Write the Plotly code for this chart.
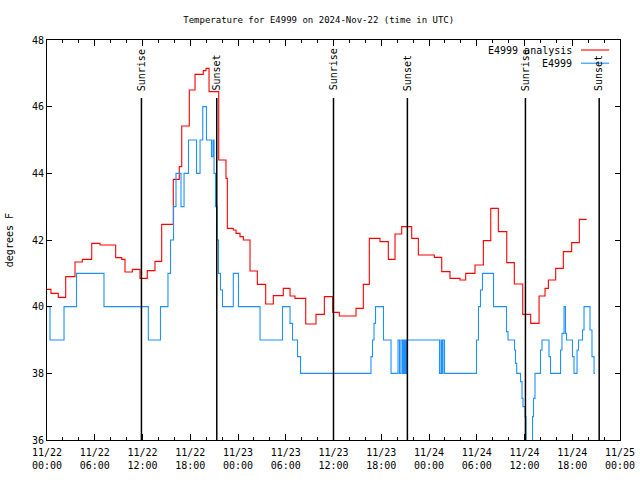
import pandas as pd
import plotly.graph_objects as go

# ---- data (hours after 2024-11-22 00:00 UTC, degrees F) ----
analysis_hours = [0.00, 0.50, 1.42, 2.35, 3.52, 4.44, 5.62, 6.66, 8.63, 9.39, 9.80, 10.72,
                  11.69, 12.60, 13.57, 14.41, 15.87, 16.62, 16.93, 17.88, 18.60, 19.64, 19.98,
                  20.36, 21.58, 22.49, 22.66, 23.41, 23.75, 24.25, 24.67, 25.51, 26.43, 27.48,
                  28.44, 29.69, 30.54, 31.16, 32.51, 33.80, 34.85, 35.90, 36.73, 38.83, 39.75,
                  40.50, 41.84, 42.89, 43.73, 44.57, 45.83, 46.66, 48.67, 49.60, 50.64, 51.90,
                  52.61, 53.78, 54.83, 55.76, 56.71, 57.77, 58.72, 59.78, 60.78, 61.83, 62.58,
                  63.00, 63.92, 64.88, 65.93, 66.89, 67.82]
analysis_temps = [40.52, 40.40, 40.28, 40.90, 41.34, 41.42, 41.90, 41.85, 41.47, 41.42, 41.04, 41.12,
                  40.85, 41.08, 41.36, 42.47, 43.82, 44.20, 45.42, 46.50, 46.97, 47.08, 47.15,
                  46.45, 44.40, 43.85, 42.35, 42.30, 42.20, 42.10, 42.00, 41.07, 40.67, 40.08,
                  40.33, 40.55, 40.32, 40.25, 39.48, 39.77, 40.30, 39.83, 39.72, 39.95, 40.67,
                  42.05, 41.95, 41.42, 42.18, 42.40, 42.05, 41.55, 41.48, 41.05, 40.85, 40.80,
                  41.00, 41.25, 41.98, 42.95, 42.25, 41.32, 40.68, 39.77, 39.50, 40.32, 40.55,
                  40.80, 41.15, 41.65, 41.92, 42.62, 42.62]

obs_hours = [0.00, 0.38, 2.14, 3.71, 7.16, 12.73, 14.26, 15.20, 15.52, 15.90, 16.21, 16.84,
             17.22, 17.78, 18.79, 19.23, 19.57, 20.04, 20.67, 20.86, 20.99, 21.17, 21.36,
             21.55, 21.80, 22.05, 23.41, 24.06, 26.77, 29.59, 30.54, 30.85, 31.48, 31.86,
             40.71, 40.90, 41.09, 41.28, 42.28, 43.23, 44.11, 44.30, 44.48, 44.67, 44.80,
             44.92, 45.05, 45.15, 45.28, 49.32, 49.51, 49.64, 49.76, 49.95, 53.97, 54.22,
             54.47, 54.72, 56.11, 57.74, 57.93, 58.75, 58.87, 59.02, 59.50, 59.69, 59.81,
             60.07, 60.19, 61.01, 61.13, 61.32, 62.01, 62.20, 63.08, 63.27, 64.53, 64.71,
             64.97, 65.15, 65.28, 66.03, 66.22, 66.60, 66.79, 67.29, 67.48, 68.23, 68.48,
             68.74, 68.86]
obs_temps = [40, 39, 40, 41, 40, 39, 40, 41, 42, 43, 44, 43,
             44, 45, 44, 45, 46, 45, 44.5, 45, 44, 43, 42,
             41, 40.5, 40, 41, 40, 39, 40, 39.5, 39, 38.5, 38,
             38.5, 39, 39.5, 40, 39, 38, 39, 38, 39, 38, 39,
             38, 39, 38, 39, 38, 39, 38, 39, 38, 39, 40,
             40.5, 41, 40, 39.25, 39, 38.7, 38.3, 38, 37.75, 37.25, 37,
             36.7, 35, 36.7, 37.25, 38, 38.7, 39, 38.5, 38, 38.7, 39.2,
             40, 39.2, 39, 38.5, 38, 38.7, 39, 39.3, 40, 39.3, 38.5,
             38, 38]

sun_labels = ["Sunrise", "Sunset", "Sunrise", "Sunset", "Sunrise", "Sunset"]
sun_times = ["2024-11-22 11:52", "2024-11-22 21:20", "2024-11-23 12:00",
             "2024-11-23 21:17", "2024-11-24 12:07", "2024-11-24 21:23"]

series_names = ["E4999 analysis", "E4999"]
series_colors = ["#ff0000", "#1e90ff"]

start = pd.Timestamp("2024-11-22 00:00")
a_t = start + pd.to_timedelta(analysis_hours, unit="h")
o_t = start + pd.to_timedelta(obs_hours, unit="h")

FONT = "DejaVu Sans Mono"

fig = go.Figure()
fig.add_trace(go.Scatter(x=a_t, y=analysis_temps, mode="lines", line_shape="hv",
                         line=dict(color=series_colors[0], width=1.1), name=series_names[0],
                         showlegend=False))
fig.add_trace(go.Scatter(x=o_t, y=obs_temps, mode="lines", line_shape="hv",
                         line=dict(color=series_colors[1], width=1.1), name=series_names[1],
                         showlegend=False))

shapes = []
annotations = []
for lab, t in zip(sun_labels, sun_times):
    shapes.append(dict(type="line", xref="x", yref="paper", x0=t, x1=t, y0=0, y1=0.855,
                       line=dict(color="black", width=1.5)))
    annotations.append(dict(x=t, y=0.868, xref="x", yref="paper", text=lab, textangle=-90,
                            showarrow=False, xanchor="center", yanchor="bottom",
                            font=dict(family=FONT, size=10, color="black")))

# legend drawn gnuplot-style (text then sample)
leg_y = [0.975, 0.942]
for name, col, ly in zip(series_names, series_colors, leg_y):
    annotations.append(dict(x=0.92, y=ly, xref="paper", yref="paper", text=name,
                            showarrow=False, xanchor="right", yanchor="middle",
                            font=dict(family=FONT, size=10, color="black")))
    shapes.append(dict(type="line", xref="paper", yref="paper", x0=0.932, x1=0.981,
                       y0=ly, y1=ly, line=dict(color=col, width=1.1)))

annotations.append(dict(x=-0.066, y=0.5, xref="paper", yref="paper", text="degrees F",
                        textangle=-90, showarrow=False, xanchor="center", yanchor="middle",
                        font=dict(family=FONT, size=10, color="black")))

fig.update_layout(
    width=640, height=480, autosize=False,
    margin=dict(l=47, r=20, t=40, b=40),
    paper_bgcolor="white", plot_bgcolor="white",
    font=dict(family=FONT, size=10, color="black"),
    title=dict(text="Temperature for E4999 on 2024-Nov-22 (time in UTC)",
               x=0.498, xref="container", xanchor="center", y=0.958, yref="container",
               yanchor="middle", font=dict(family=FONT, size=9, color="black")),
    shapes=shapes, annotations=annotations,
)
fig.update_xaxes(type="date", range=["2024-11-22 00:00", "2024-11-25 00:00"],
                 automargin=False,
                 tick0="2024-11-22 00:00", dtick=6 * 3600 * 1000,
                 tickformat="%m/%d<br>%H:%M", ticks="inside", ticklen=6, tickcolor="black",
                 ticklabelstandoff=3,
                 showline=True, linecolor="black", linewidth=1, mirror="allticks",
                 showgrid=False, zeroline=False,
                 minor=dict(dtick=2 * 3600 * 1000, ticks="inside", ticklen=3,
                            tickcolor="black", showgrid=False),
                 tickfont=dict(family=FONT, size=10, color="black"))
fig.update_yaxes(range=[36, 48], dtick=2, ticks="inside", ticklen=5, tickcolor="black",
                 automargin=False,
                 showline=True, linecolor="black", linewidth=1, mirror="allticks",
                 showgrid=False, zeroline=False,
                 tickfont=dict(family=FONT, size=10, color="black"))

fig.write_html("out.html", config={"displayModeBar": False},
               post_script="document.body.style.margin='0';document.body.style.overflow='hidden';")
